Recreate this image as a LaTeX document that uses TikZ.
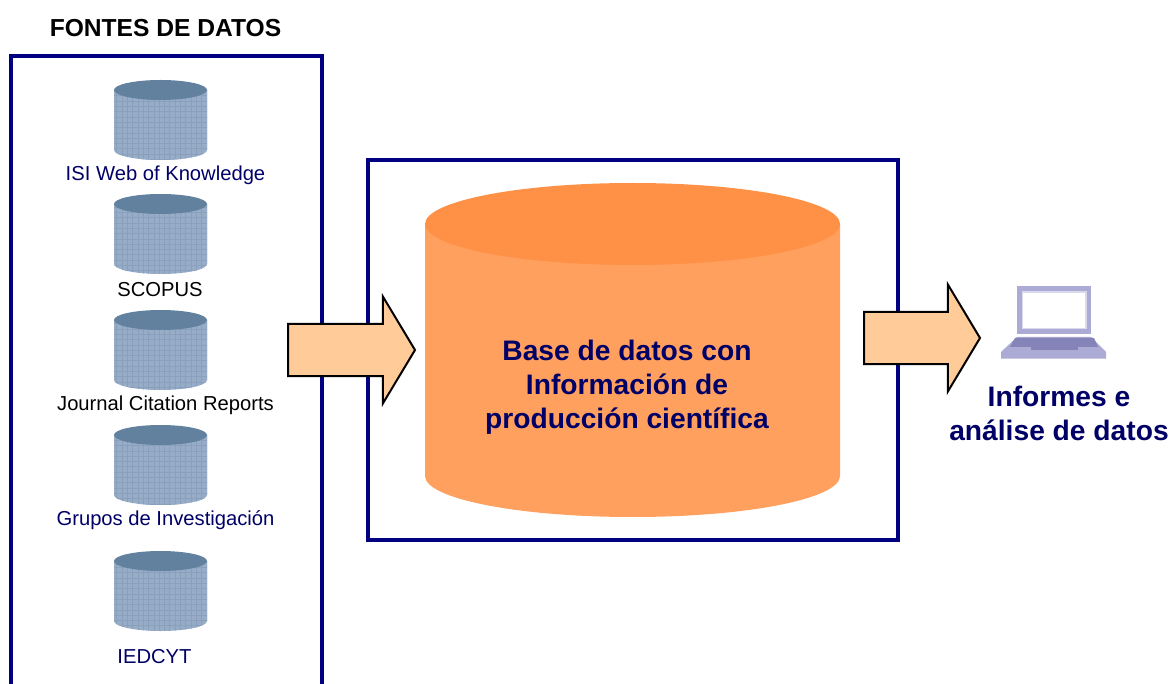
\documentclass[tikz,border=0pt]{standalone}
\usepackage{fontspec}
\setmainfont{Liberation Sans}
\usetikzlibrary{patterns.meta, positioning, shapes.arrows}
\definecolor{framenavy}{HTML}{000080}
\definecolor{labelnavy}{HTML}{000066}
\definecolor{dbtop}{HTML}{62819F}
\definecolor{dbbody}{HTML}{97ACC6}
\definecolor{dbgrid}{HTML}{8A9FBB}
\definecolor{maintop}{HTML}{FF9147}
\definecolor{mainbody}{HTML}{FFA05F}
\definecolor{arrowfill}{HTML}{FFCC99}
\definecolor{laptoplight}{HTML}{ABABD6}
\definecolor{laptopdark}{HTML}{8484B8}
\definecolor{laptopedge}{HTML}{D9D9EC}
\tikzset{
    framebox/.style={framenavy, line width=4pt},
    gridlines/.style={pattern={Hatch[angle=0,distance=5.3pt,line width=0.4pt]}, pattern color=dbgrid},
    pics/smalldb/.style={code={
        \path[fill=dbbody, postaction={gridlines}] (-46.5,-30) -- (-46.5,30) arc[start angle=180, end angle=0, x radius=46.5, y radius=10] -- (46.5,-30) -- cycle;
        \path[fill=dbtop] (0,-30) ellipse[x radius=46.5, y radius=10];
    }},
    pics/bigdb/.style={code={
        \fill[mainbody] (-207.5,-126) -- (-207.5,126) arc[start angle=180, end angle=0, x radius=207.5, y radius=41] -- (207.5,-126) -- cycle;
        \fill[maintop] (0,-126) ellipse[x radius=207.5, y radius=41];
    }},
    blockarrow/.style={single arrow, draw=black, fill=arrowfill, line width=2pt, inner xsep=0pt, inner ysep=25pt,
        single arrow tip angle=118, single arrow head extend=27.3pt, minimum width=105pt, anchor=tail},
    dblabel/.style={font=\fontsize{20.2}{24}\selectfont, inner sep=0pt},
    biglabel/.style={font=\fontsize{28.2}{34}\selectfont\bfseries, text=labelnavy, align=center, inner sep=0pt}
}
\begin{document}
\begin{tikzpicture}[x=1pt, y=-1pt]
    \useasboundingbox (0,0) rectangle (1172,684);
    % left frame runs off the bottom
    \draw[framebox] (10.5,684) -- (10.5,56.5) -- (321.5,56.5) -- (321.5,684);
    \draw[framebox] (368,160) rectangle (898,540);
    \node[font=\fontsize{24.6}{28}\selectfont\bfseries, inner sep=0pt] (title) at (165.5,28) {FONTES DE DATOS};

    \pic (isi) at (160.5,120) {smalldb};
    \pic (scopus) at (160.5,234) {smalldb};
    \pic (jcr) at (160.5,350) {smalldb};
    \pic (grupos) at (160.5,465) {smalldb};
    \pic (iedcyt) at (160.5,591) {smalldb};
    \node[dblabel, text=labelnavy] (isilabel) at (165.5,175) {ISI Web of Knowledge};
    \node[dblabel] (scopuslabel) at (160,290) {SCOPUS};
    \node[dblabel] (jcrlabel) at (165.5,405) {Journal Citation Reports};
    \node[dblabel, text=labelnavy] (gruposlabel) at (165.5,520) {Grupos de Investigación};
    \node[dblabel, text=labelnavy] (iedcytlabel) at (154.5,657) {IEDCYT};

    \pic (maindb) at (632.5,350) {bigdb};
    \node[biglabel] (mainlabel) at (627,387) {Base de datos con\\Información de\\producción científica};

    \node[blockarrow, minimum height=127pt] (arrowin) at (287,350) {};
    \node[blockarrow, minimum height=116pt] (arrowout) at (863,338) {};

    % laptop
    \fill[laptoplight] (1017,286) rectangle (1091,334);
    \fill[laptopedge] (1021.5,291.5) rectangle (1086.5,329.5);
    \fill[white] (1023,293) rectangle (1085,328);
    \fill[laptoplight] (1017,337) -- (1091,337) -- (1106,352) -- (1106,358.5) -- (1001,358.5) -- (1001,352) -- cycle;
    \fill[laptopdark] (1015,338) -- (1094,338) -- (1098,347) -- (1010,347) -- cycle;
    \fill[laptopdark] (1030.5,347) rectangle (1077.5,350);
    \node[biglabel] (reportlabel) at (1059,413.5) {Informes e\\análise de datos};
\end{tikzpicture}
\end{document}
